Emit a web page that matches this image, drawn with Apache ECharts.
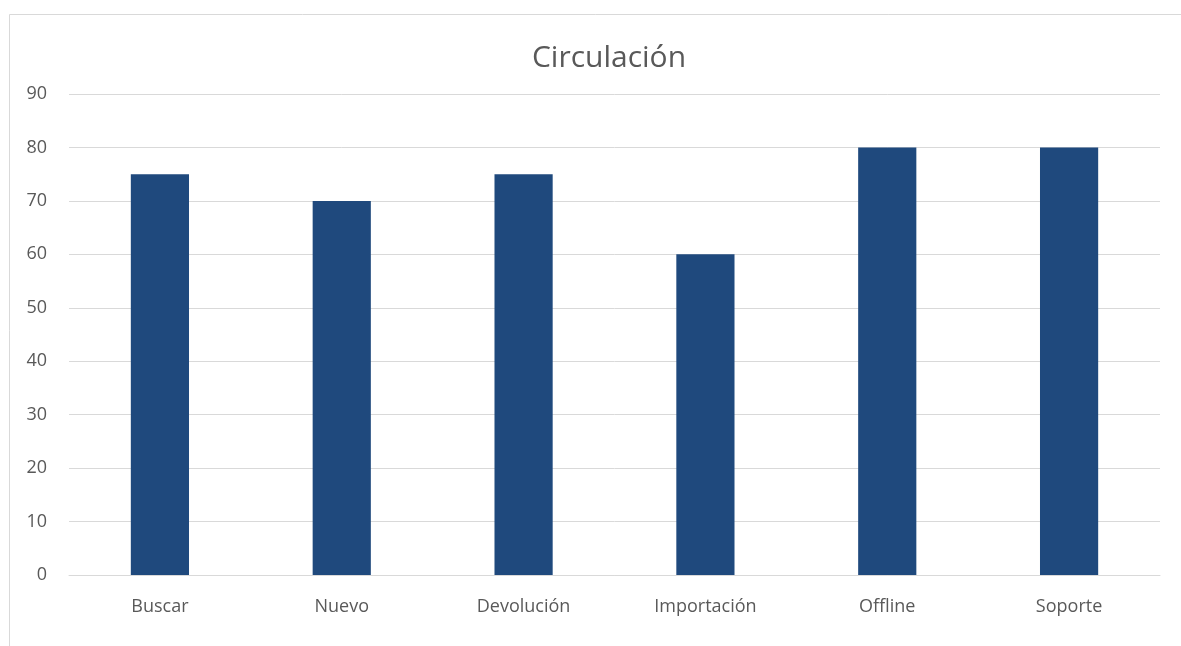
<!DOCTYPE html>
<html>
<head>
<meta charset="utf-8">
<script src="https://cdn.jsdelivr.net/npm/echarts@6/dist/echarts.min.js"></script>
<style>
  html, body { margin: 0; padding: 0; background: #fff; }
  #chart { width: 1181px; height: 646px; }
</style>
</head>
<body>
<div id="chart"></div>
<script>
const categories = ['Buscar', 'Nuevo', 'Devolución', 'Importación', 'Offline', 'Soporte']
const values = [75, 70, 75, 60, 80, 80]
const yMin = 0
const yMax = 90
const yStep = 10

const chart = echarts.init(document.getElementById('chart'))
const font = '"Open Sans", "Liberation Sans", sans-serif'

chart.setOption({
  animation: false,
  backgroundColor: '#fff',
  // outer chart frame (cut off on the right and bottom)
  graphic: [{
    type: 'rect',
    shape: { x: 9.5, y: 14.5, width: 1300, height: 800 },
    style: { fill: 'none', stroke: '#d9d9d9', lineWidth: 1 },
    silent: true,
    z: -1
  }],
  title: {
    text: 'Circulación',
    left: 604,
    top: 38,
    textAlign: 'center',
    textStyle: { fontFamily: font, fontSize: 30, fontWeight: 'normal', color: '#595959' }
  },
  grid: { left: 69, right: 21, top: 94, bottom: 71, containLabel: false },
  xAxis: {
    type: 'category',
    data: categories,
    axisLine: { lineStyle: { color: '#d9d9d9', width: 1 } },
    axisTick: { show: false },
    axisLabel: { fontFamily: font, fontSize: 18, color: '#595959', margin: 23 }
  },
  yAxis: {
    type: 'value',
    min: yMin,
    max: yMax,
    interval: yStep,
    axisLine: { show: false },
    axisTick: { show: false },
    splitLine: { lineStyle: { color: '#d9d9d9', width: 1 } },
    axisLabel: { fontFamily: font, fontSize: 18, color: '#595959', margin: 22 }
  },
  series: [{
    type: 'bar',
    data: values,
    barWidth: '32%',
    itemStyle: { color: '#1f497d' }
  }]
})
</script>
</body>
</html>
